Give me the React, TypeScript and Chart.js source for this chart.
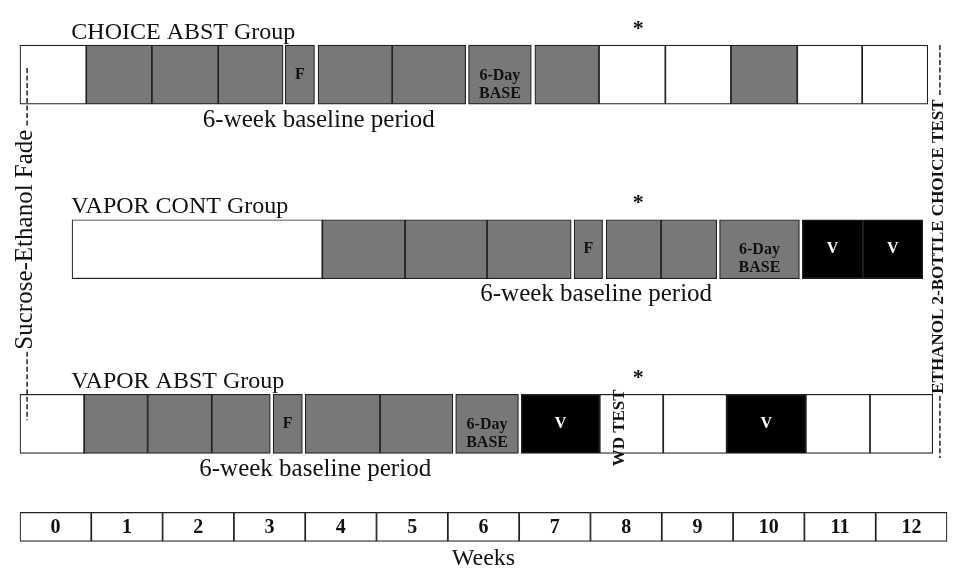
import React, { useEffect, useRef } from "react";
import { Chart, registerables } from "chart.js";

Chart.register(...registerables);

// ---------- DATA ----------
// Week tick labels on the time axis
const WEEK_LABELS = ["0", "1", "2", "3", "4", "5", "6", "7", "8", "9", "10", "11", "12"];

// Group names
const GROUP_NAMES = ["CHOICE ABST Group", "VAPOR CONT Group", "VAPOR ABST Group"];

// Segments per group: [start week, end week, kind, label]
// kind: "A" = abstinence/no access (white), "B" = baseline drinking (gray), "V" = vapor exposure (black)
type Seg = [number, number, string, string];

const CHOICE_ABST_SEGS: Seg[] = [
  [0, 0.93, "A", ""],
  [0.93, 1.85, "B", ""],
  [1.85, 2.78, "B", ""],
  [2.78, 3.69, "B", ""],
  [3.72, 4.13, "B", "F"],
  [4.18, 5.22, "B", ""],
  [5.22, 6.25, "B", ""],
  [6.29, 7.17, "B", "6-Day\nBASE"],
  [7.22, 8.12, "B", ""],
  [8.12, 9.05, "A", ""],
  [9.05, 9.97, "A", ""],
  [9.97, 10.9, "B", ""],
  [10.9, 11.81, "A", ""],
  [11.81, 12.73, "A", ""],
];

const VAPOR_CONT_SEGS: Seg[] = [
  [0.73, 4.24, "A", ""],
  [4.24, 5.4, "B", ""],
  [5.4, 6.55, "B", ""],
  [6.55, 7.73, "B", ""],
  [7.77, 8.17, "B", "F"],
  [8.22, 8.99, "B", ""],
  [8.99, 9.77, "B", ""],
  [9.81, 10.93, "B", "6-Day\nBASE"],
  [10.97, 11.82, "V", "V"],
  [11.82, 12.66, "V", "V"],
];

const VAPOR_ABST_SEGS: Seg[] = [
  [0, 0.9, "A", ""],
  [0.9, 1.79, "B", ""],
  [1.79, 2.69, "B", ""],
  [2.69, 3.51, "B", ""],
  [3.55, 3.96, "B", "F"],
  [4.0, 5.05, "B", ""],
  [5.05, 6.07, "B", ""],
  [6.11, 6.99, "B", "6-Day\nBASE"],
  [7.03, 8.13, "V", "V"],
  [8.13, 9.02, "A", ""],
  [9.02, 9.91, "A", ""],
  [9.91, 11.02, "V", "V"],
  [11.02, 11.92, "A", ""],
  [11.92, 12.8, "A", ""],
];

const GROUP_SEGS = [CHOICE_ABST_SEGS, VAPOR_CONT_SEGS, VAPOR_ABST_SEGS];
const GROUP_LANES = [1, 2, 3];
const AXIS_LANE = 3.59;

// Annotations (in week units)
const BASELINE_LABEL = "6-week baseline period";
const BASELINE_LABEL_X = [4.19, 8.08, 4.14];
const TITLE_X = 0.72;
const ASTERISK_X = 8.67;
const WD_TEST_LABEL = "WD TEST";
const WD_TEST_X = 8.41;
const FADE_LABEL = "Sucrose-Ethanol Fade";
const FADE_X = 0.1;
const FADE_LANES = [0.962, 1.945, 2.98];
const CHOICE_TEST_LABEL = "ETHANOL 2-BOTTLE CHOICE TEST";
const CHOICE_TEST_X = 12.9;
const CHOICE_TEST_LANES = [0.83, 1.985, 3.196];
const AXIS_TITLE = "Weeks";

// ---------- STYLE ----------
const COLORS: Record<string, string> = { A: "#ffffff", B: "#787878", V: "#000000" };
const BORDER = "#222222";
const ROW_H = 59;
const AXIS_H = 29;
const SERIF = '"Liberation Serif", "Times New Roman", serif';
const font = (size: number, bold = false) => `${bold ? "bold " : ""}${size}px ${SERIF}`;

const annotations = {
  id: "annotations",
  afterDatasetsDraw(chart: any) {
    const { ctx } = chart;
    const xs = chart.scales.x;
    const ys = chart.scales.y;
    ctx.save();
    ctx.fillStyle = "#111";

    GROUP_SEGS.forEach((segs, gi) => {
      const cy = ys.getPixelForValue(GROUP_LANES[gi]);
      const top = cy - ROW_H / 2;
      const bottom = cy + ROW_H / 2;

      // Group title
      ctx.fillStyle = "#111";
      ctx.font = font(24);
      ctx.textAlign = "left";
      ctx.textBaseline = "alphabetic";
      ctx.fillText(GROUP_NAMES[gi], xs.getPixelForValue(TITLE_X), top - 6.5);

      // Baseline period label
      ctx.font = font(25);
      ctx.textAlign = "center";
      ctx.textBaseline = "middle";
      ctx.fillText(BASELINE_LABEL, xs.getPixelForValue(BASELINE_LABEL_X[gi]), bottom + 16);

      // Asterisk
      ctx.font = font(22, true);
      ctx.textBaseline = "alphabetic";
      ctx.fillText("*", xs.getPixelForValue(ASTERISK_X), top - 21 + 10.5);

      // Segment labels
      segs.forEach((s) => {
        if (!s[3]) return;
        const cx = (xs.getPixelForValue(s[0]) + xs.getPixelForValue(s[1])) / 2;
        const lines = s[3].split("\n");
        ctx.fillStyle = s[2] === "V" ? "#ffffff" : "#111111";
        ctx.font = font(16, true);
        ctx.textAlign = "center";
        ctx.textBaseline = "middle";
        if (lines.length === 1) {
          ctx.fillText(lines[0], cx, cy);
        } else {
          ctx.fillText(lines[0], cx, cy + 1);
          ctx.fillText(lines[1], cx, cy + 19);
        }
      });
    });

    // WD TEST (rotated)
    {
      const cy = ys.getPixelForValue(GROUP_LANES[2]);
      ctx.save();
      ctx.translate(xs.getPixelForValue(WD_TEST_X), cy + 4);
      ctx.rotate(-Math.PI / 2);
      ctx.fillStyle = "#111";
      ctx.font = font(17, true);
      ctx.textAlign = "center";
      ctx.textBaseline = "middle";
      ctx.fillText(WD_TEST_LABEL, 0, 0);
      ctx.restore();
    }

    // Vertical dashed markers with rotated text
    const drawMarker = (label: string, xv: number, lanes: number[], f: string, dx: number) => {
      const x = xs.getPixelForValue(xv);
      const y0 = ys.getPixelForValue(lanes[0]);
      const yc = ys.getPixelForValue(lanes[1]);
      const y1 = ys.getPixelForValue(lanes[2]);
      ctx.font = f;
      const w = ctx.measureText(label).width;
      ctx.strokeStyle = "#222";
      ctx.lineWidth = 1.5;
      ctx.setLineDash([5, 2.5]);
      ctx.beginPath();
      ctx.moveTo(x, y0);
      ctx.lineTo(x, yc - w / 2 - 2);
      ctx.moveTo(x, yc + w / 2 + 2);
      ctx.lineTo(x, y1);
      ctx.stroke();
      ctx.setLineDash([]);
      ctx.save();
      ctx.translate(x + dx, yc);
      ctx.rotate(-Math.PI / 2);
      ctx.fillStyle = "#111";
      ctx.textAlign = "center";
      ctx.textBaseline = "middle";
      ctx.fillText(label, 0, 0);
      ctx.restore();
    };
    drawMarker(FADE_LABEL, FADE_X, FADE_LANES, font(25), -2);
    drawMarker(CHOICE_TEST_LABEL, CHOICE_TEST_X, CHOICE_TEST_LANES, font(17, true), -1);

    // Week axis labels
    const ay = ys.getPixelForValue(AXIS_LANE);
    ctx.fillStyle = "#111";
    ctx.font = font(20, true);
    ctx.textAlign = "center";
    ctx.textBaseline = "middle";
    WEEK_LABELS.forEach((lab, i) => {
      ctx.fillText(lab, xs.getPixelForValue(i + 0.5), ay + 1);
    });
    ctx.font = font(24);
    ctx.fillText(AXIS_TITLE, xs.getPixelForValue(WEEK_LABELS.length / 2), ay + AXIS_H / 2 + 17);

    ctx.restore();
  },
};

export default function App() {
  const ref = useRef<HTMLCanvasElement | null>(null);

  useEffect(() => {
    if (!ref.current) return;
    const datasets: any[] = GROUP_SEGS.map((segs, gi) => ({
      label: GROUP_NAMES[gi],
      data: segs.map((s) => ({ x: [s[0], s[1]], y: GROUP_LANES[gi] })),
      backgroundColor: segs.map((s) => COLORS[s[2]]),
      borderColor: BORDER,
      borderWidth: 1.2,
      borderSkipped: false,
      barThickness: ROW_H,
      grouped: false,
    }));
    datasets.push({
      label: "Weeks",
      data: WEEK_LABELS.map((_, i) => ({ x: [i, i + 1], y: AXIS_LANE })),
      backgroundColor: "#ffffff",
      borderColor: BORDER,
      borderWidth: 1.2,
      borderSkipped: false,
      barThickness: AXIS_H,
      grouped: false,
    });

    const chart = new Chart(ref.current, {
      type: "bar",
      data: { datasets },
      options: {
        indexAxis: "y",
        animation: false,
        responsive: false,
        maintainAspectRatio: false,
        layout: { padding: 0 },
        plugins: { legend: { display: false }, tooltip: { enabled: false }, title: { display: false } },
        scales: {
          x: { type: "linear", min: -0.28, max: 13.28, offset: false, display: false },
          y: { type: "linear", reverse: true, min: 0.573, max: 3.877, offset: false, display: false },
        },
      },
      plugins: [annotations],
    } as any);
    return () => chart.destroy();
  }, []);

  return (
    <div style={{ position: "absolute", left: 0, top: 0, width: 967, height: 577, background: "#fff" }}>
      <canvas ref={ref} width={967} height={577} style={{ display: "block" }} />
    </div>
  );
}
